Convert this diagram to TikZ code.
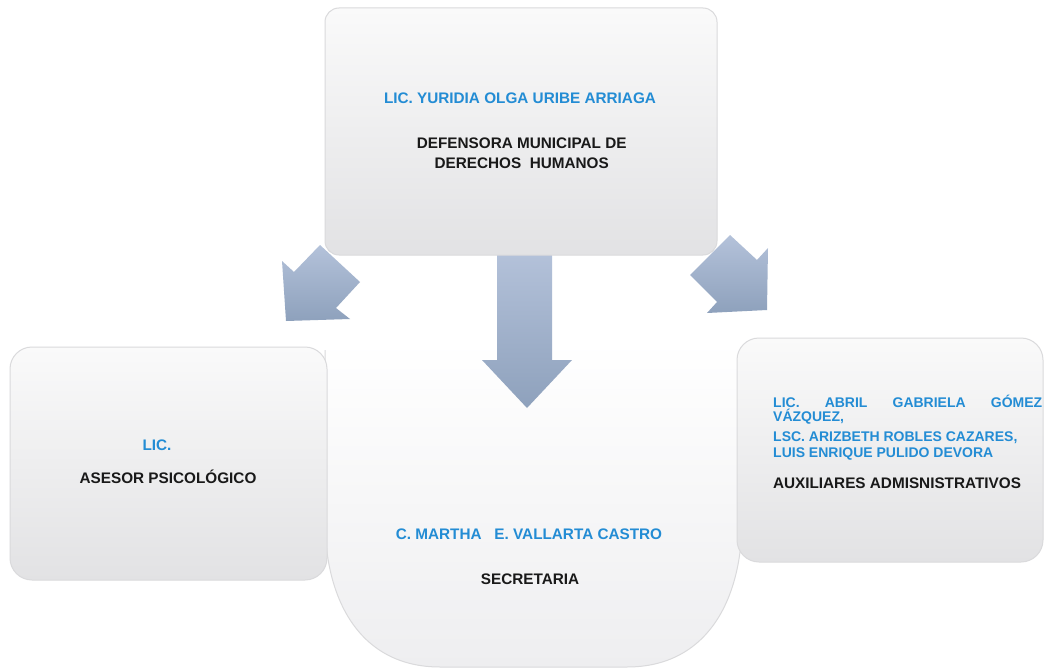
\documentclass[tikz,border=0pt]{standalone}
\usepackage{fontspec}
\setmainfont{Liberation Sans}
\definecolor{nameblue}{RGB}{35,140,212}
\definecolor{txtblack}{RGB}{25,25,25}
\definecolor{arrowtop}{RGB}{180,194,218}
\definecolor{arrowbot}{RGB}{142,161,188}
\definecolor{boxtop}{RGB}{250,250,250}
\definecolor{boxbot}{RGB}{226,226,228}
\definecolor{boxedge}{RGB}{218,218,220}
\tikzset{
  boxstyle/.style={draw=boxedge, line width=1pt, top color=boxtop, bottom color=boxbot, inner sep=0pt},
  arrowstyle/.style={top color=arrowtop, bottom color=arrowbot, draw=none},
  nametext/.style={text=nameblue, font=\bfseries\fontsize{15.3}{18}\selectfont, inner sep=0pt, anchor=base},
  smallname/.style={text=nameblue, font=\bfseries\fontsize{14}{16}\selectfont, inner sep=0pt, anchor=base west},
  roletext/.style={text=txtblack, font=\bfseries\fontsize{15.3}{18}\selectfont, inner sep=0pt, anchor=base}
}
\begin{document}
\begin{tikzpicture}[x=1pt,y=-1pt]
\useasboundingbox[fill=white] (0,0) rectangle (1045,669);

% secretary shape
\path[top color=white, bottom color={rgb,255:red,238;green,238;blue,240}]
  (325,355) -- (325,520) .. controls (325,600) and (360,667) .. (440,667)
  -- (627,667) .. controls (707,667) and (742,600) .. (742,520)
  -- (742,355) .. controls (742,345) and (737,340) .. (727,340)
  -- (340,340) .. controls (330,340) and (325,345) .. (325,355) -- cycle;
\draw[boxedge, line width=1pt]
  (325,350) -- (325,520) .. controls (325,600) and (360,667) .. (440,667)
  -- (627,667) .. controls (707,667) and (742,600) .. (742,520) -- (742,350);
\coordinate (secre) at (533,500);

% side boxes
\node[boxstyle, rounded corners=22pt, minimum width=317pt, minimum height=233pt] (asesor) at (168.5,463.5) {};
\node[boxstyle, rounded corners=22pt, minimum width=306pt, minimum height=224pt] (aux) at (890,450) {};

% block arrows
\path[arrowstyle] (320,245) -- (360,282) -- (336,308) -- (350,319) -- (286,321) -- (282,261) -- (294,272) -- cycle;
\path[arrowstyle] (730,235) -- (690,275) -- (717,302) -- (707,313) -- (767,310) -- (768,248) -- (757,260) -- cycle;
\path[arrowstyle] (497,250) -- (552,250) -- (552,360) -- (572,360) -- (527,408) -- (482,360) -- (497,360) -- cycle;

% top box
\node[boxstyle, rounded corners=14pt, minimum width=392pt, minimum height=247pt] (boss) at (521,131.5) {};

% texts
\node[nametext] (bossname) at (520,103) {LIC. YURIDIA OLGA URIBE ARRIAGA};
\node[roletext] (bossrole1) at (521.7,148) {DEFENSORA MUNICIPAL DE};
\node[roletext] (bossrole2) at (521.7,168) {DERECHOS\ \ HUMANOS};

\node[nametext] (asesorname) at (157,450) {LIC.};
\node[roletext] (asesorrole) at (168,483) {ASESOR PSICOLÓGICO};

\node[nametext] (secrename) at (529,539) {C. MARTHA\ \ \ E. VALLARTA CASTRO};
\node[roletext] (secrerole) at (530,584) {SECRETARIA};

\node[smallname] (auxname1) at (773,407) {\makebox[269pt][l]{LIC.\hfill ABRIL\hfill GABRIELA\hfill GÓMEZ}};
\node[smallname] (auxname2) at (773,421.5) {VÁZQUEZ,};
\node[smallname] (auxname3) at (773,441) {LSC. ARIZBETH ROBLES CAZARES,};
\node[smallname] (auxname4) at (773,457) {LUIS ENRIQUE PULIDO DEVORA};
\node[roletext] (auxrole) at (897,488) {AUXILIARES ADMISNISTRATIVOS};
\end{tikzpicture}
\end{document}
